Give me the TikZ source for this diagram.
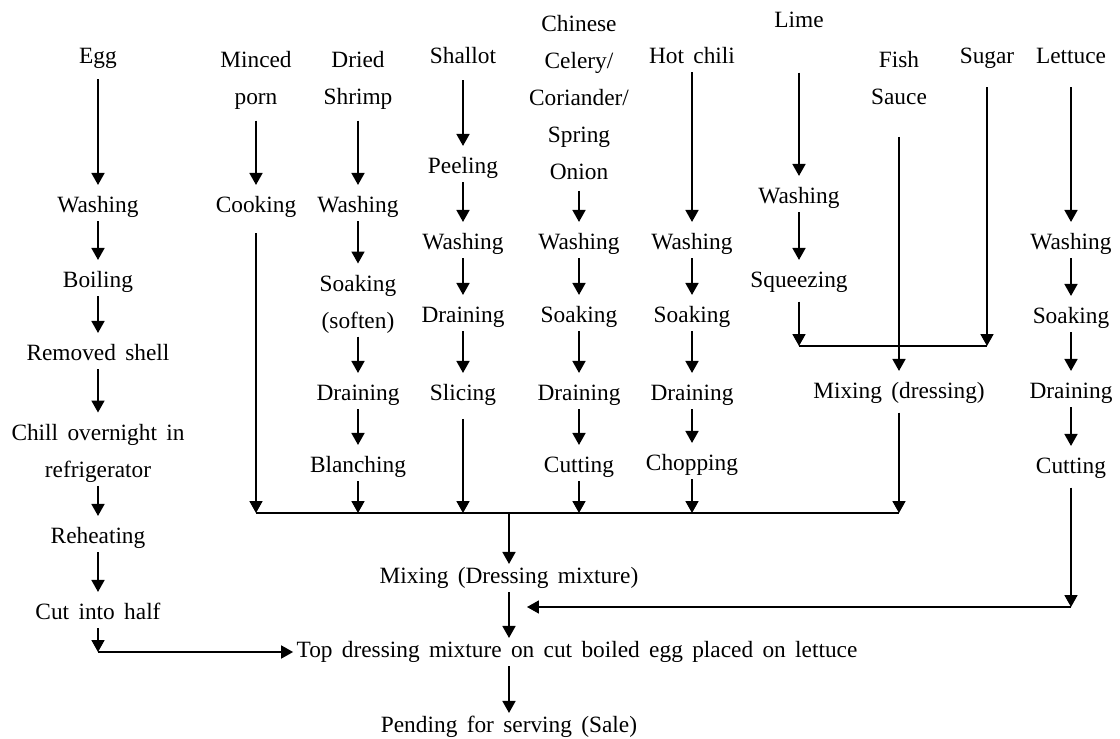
\documentclass[tikz,border=0pt]{standalone}
\usepackage{fontspec}
\setmainfont{Liberation Serif}[WordSpace=1.6]
\usetikzlibrary{arrows.meta}

\begin{document}
\begin{tikzpicture}[
    x=0.025cm, y=-0.025cm,
    font=\fontsize{16.6}{26.3}\selectfont,
    base/.style={inner sep=0pt, outer sep=2.5pt, align=center},
    stage/.style={base, text height=11.5pt, text depth=3.5pt},
    stack/.style={base, anchor=north},
    link/.style={line width=1pt},
    feed/.style={link, -{Triangle[width=9.3pt, length=8.5pt]}},
    arrow/.style={feed, shorten >=5.7pt}
]
\useasboundingbox (0,0) rectangle (1120,738);

% Egg
\node[stage] (egg) at (98,58) {Egg};
\node[stage] (wash1) at (98,207) {Washing};
\node[stage] (boil) at (98,282) {Boiling};
\node[stage] (shell) at (98,355) {Removed shell};
\node[stack] (chill) at (98,420.5) {Chill overnight in\\refrigerator};
\node[stage] (reheat) at (98,538) {Reheating};
\node[stage] (halve) at (98,614) {Cut into half};

% Minced porn
\node[stack] (porn) at (256,47.5) {Minced\\porn};
\node[stage] (cook) at (256,207) {Cooking};

% Dried shrimp
\node[stack] (shrimp) at (358,47.5) {Dried\\Shrimp};
\node[stage] (wash2) at (358,207) {Washing};
\node[stack] (soak2) at (358,271.5) {Soaking\\(soften)};
\node[stage] (drain2) at (358,395) {Draining};
\node[stage] (blanch) at (358,467) {Blanching};

% Shallot
\node[stage] (shallot) at (463,58) {Shallot};
\node[stage] (peel) at (463,168) {Peeling};
\node[stage] (wash3) at (463,244) {Washing};
\node[stage] (drain3) at (463,317) {Draining};
\node[stage] (slice) at (463,395) {Slicing};

% Chinese celery / coriander / spring onion
\node[stack] (herb) at (579,11.5) {Chinese\\Celery/\\Coriander/\\Spring\\Onion};
\node[stage] (wash4) at (579,244) {Washing};
\node[stage] (soak4) at (579,317) {Soaking};
\node[stage] (drain4) at (579,395) {Draining};
\node[stage] (cut4) at (579,467) {Cutting};

% Hot chili
\node[stage] (chili) at (692,58) {Hot chili};
\node[stage] (wash5) at (692,244) {Washing};
\node[stage] (soak5) at (692,317) {Soaking};
\node[stage] (drain5) at (692,395) {Draining};
\node[stage] (chop) at (692,465) {Chopping};

% Lime, fish sauce, sugar
\node[stage] (lime) at (799,22) {Lime};
\node[stage] (wash6) at (799,198) {Washing};
\node[stage] (squeeze) at (799,282) {Squeezing};
\node[stack] (fish) at (899,47.5) {Fish\\Sauce};
\node[stage] (sugar) at (987,58) {Sugar};
\node[stage] (dressing) at (899,393) {Mixing (dressing)};

% Lettuce
\node[stage] (lettuce) at (1071,58) {Lettuce};
\node[stage] (wash7) at (1071,244) {Washing};
\node[stage] (soak7) at (1071,318) {Soaking};
\node[stage] (drain7) at (1071,393) {Draining};
\node[stage] (cut7) at (1071,468) {Cutting};

% Final steps
\node[stage] (mix) at (509,578) {Mixing (Dressing mixture)};
\node[stage] (top) at (577,652) {Top dressing mixture on cut boiled egg placed on lettuce};
\node[stage] (pend) at (509,727) {Pending for serving (Sale)};

\coordinate (join) at (509,513);
\coordinate (limejoin) at (899,346);
\coordinate (lettjoin) at (527,607);

% Egg arrows
\draw[arrow, shorten <=5pt] (egg) -- (wash1);
\draw[arrow] (wash1) -- (boil);
\draw[arrow] (boil) -- (shell);
\draw[arrow] (shell) -- (chill);
\draw[arrow] (chill) -- (reheat);
\draw[arrow] (reheat) -- (halve);
\draw[feed] (halve) -- (halve |- top);
\draw[feed] (halve |- top) -- (top);

% Porn and shrimp arrows
\draw[arrow, shorten <=5.7pt] (porn) -- (cook);
\draw[feed, shorten <=8.5pt] (cook) -- (cook |- join);
\draw[arrow, shorten <=5.7pt] (shrimp) -- (wash2);
\draw[arrow] (wash2) -- (soak2);
\draw[arrow] (soak2) -- (drain2);
\draw[arrow] (drain2) -- (blanch);
\draw[feed] (blanch) -- (blanch |- join);

% Shallot arrows
\draw[arrow, shorten <=5.7pt] (shallot) -- (peel);
\draw[arrow] (peel) -- (wash3);
\draw[arrow] (wash3) -- (drain3);
\draw[arrow] (drain3) -- (slice);
\draw[feed, shorten <=7pt] (slice) -- (slice |- join);

% Herb arrows
\draw[arrow, shorten <=5.7pt] (herb) -- (wash4);
\draw[arrow] (wash4) -- (soak4);
\draw[arrow] (soak4) -- (drain4);
\draw[arrow] (drain4) -- (cut4);
\draw[feed] (cut4) -- (cut4 |- join);

% Chili arrows
\draw[arrow] (chili) -- (wash5);
\draw[arrow] (wash5) -- (soak5);
\draw[arrow] (soak5) -- (drain5);
\draw[arrow] (drain5) -- (chop);
\draw[feed] (chop) -- (chop |- join);

% Dressing arrows
\draw[arrow, shorten <=26pt] (lime) -- (wash6);
\draw[arrow] (wash6) -- (squeeze);
\draw[feed, shorten <=4pt] (squeeze) -- (squeeze |- limejoin);
\draw[feed, shorten <=10.7pt] (sugar) -- (sugar |- limejoin);
\draw[link] (squeeze |- limejoin) -- (sugar |- limejoin);
\draw[arrow, shorten <=20.6pt] (fish) -- (dressing);
\draw[feed, shorten <=4pt] (dressing) -- (dressing |- join);

% Lettuce arrows
\draw[arrow, shorten <=10.7pt] (lettuce) -- (wash7);
\draw[arrow] (wash7) -- (soak7);
\draw[arrow] (soak7) -- (drain7);
\draw[arrow] (drain7) -- (cut7);
\draw[feed, shorten <=4pt] (cut7) -- (cut7 |- lettjoin);
\draw[feed] (cut7 |- lettjoin) -- (lettjoin);

% Collecting line and final steps
\draw[link] (cook |- join) -- (dressing |- join);
\draw[feed] (join) -- (mix);
\draw[feed] (mix) -- (mix |- top.north);
\draw[feed] (top.south -| pend) -- (pend);
\end{tikzpicture}
\end{document}
